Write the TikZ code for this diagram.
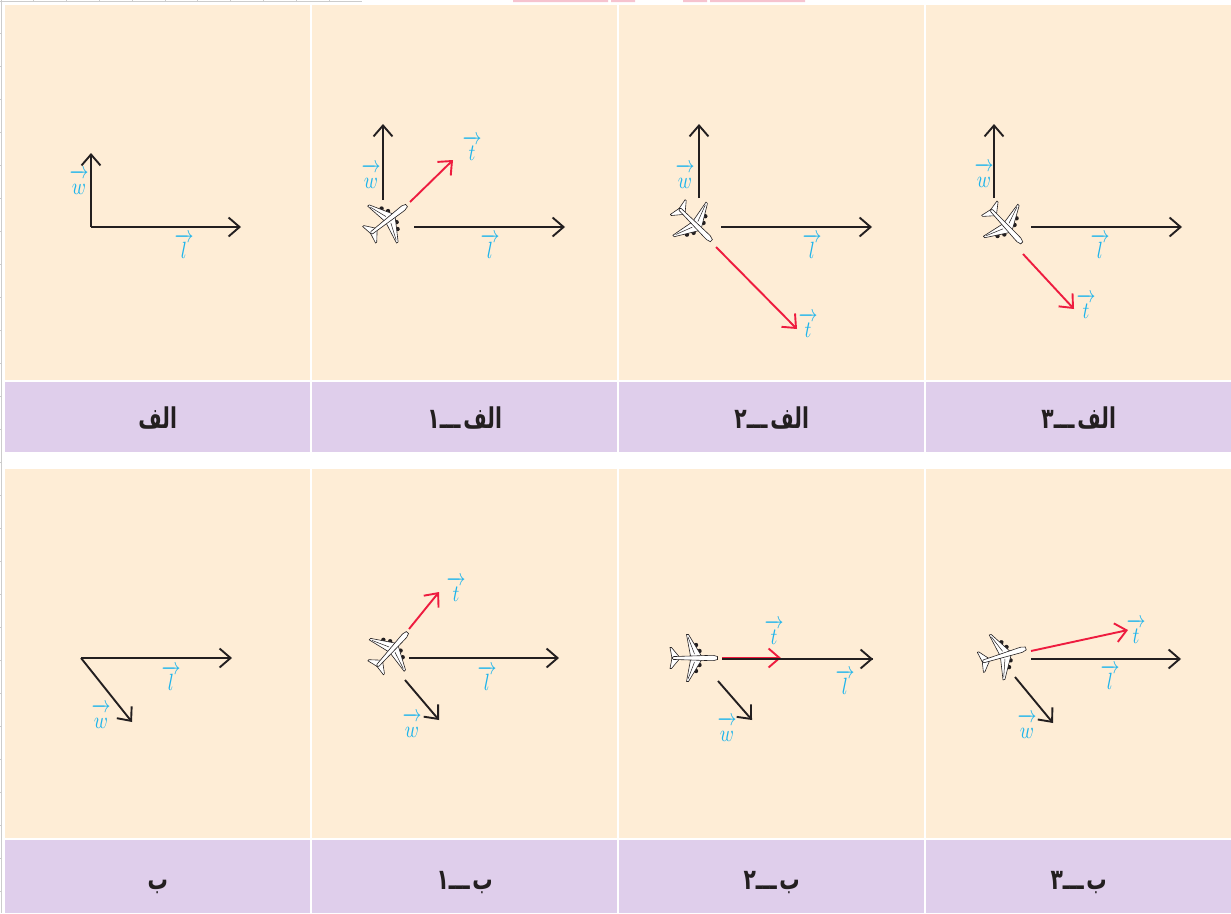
\documentclass[tikz,border=0pt]{standalone}
\usepackage{fontspec}
\usetikzlibrary{arrows.meta}
\TeXXeTstate=1
\newfontfamily\arabicfont[Script=Arabic]{DejaVu Sans}
\definecolor{panelbg}{HTML}{FEEDD6}
\definecolor{capbg}{HTML}{DFCEEB}
\definecolor{inkred}{HTML}{EE1C3F}
\definecolor{inkcyan}{HTML}{1CB4EC}
\definecolor{ink}{HTML}{231F20}
\definecolor{rulegray}{HTML}{CCCCCC}
\definecolor{markpink}{HTML}{F6C3CF}
\newcommand{\vlab}[1]{$\overrightarrow{\rule{0pt}{8pt}\hbox to 6.5pt{\hss$#1$\hss}}$}
\newcommand{\capt}[1]{\scalebox{0.92}[1.3]{\beginR #1\endR}}
\tikzset{
  panel/.style={fill=panelbg,anchor=north west,inner sep=0pt,minimum width=305pt},
  capbox/.style={fill=capbg,anchor=north west,inner sep=0pt,minimum width=305pt,text=ink,
    font=\arabicfont\bfseries\fontsize{22}{26}\selectfont},
  captop/.style={capbox,minimum height=70pt,text height=22pt,text depth=0pt},
  capbot/.style={capbox,minimum height=73pt,text height=25pt,text depth=0pt},
  vecb/.style={draw=ink,line width=1.9pt,-{Straight Barb[length=11pt,width=19pt,line width=1.9pt]}},
  vecr/.style={draw=inkred,line width=1.9pt,-{Straight Barb[length=11pt,width=19pt,line width=1.9pt]}},
  lab/.style={text=inkcyan,inner sep=0pt,xscale=1.9,yscale=2.35},
  rulemark/.style={draw=rulegray,line width=0.9pt},
  plane/.pic={
    \fill[ink] (5.5,7) circle (2.2) (2,13) circle (2.2) (5.5,-7) circle (2.2) (2,-13) circle (2.2);
    \draw[ink,fill=white,line width=0.6pt,line join=round]
      (7.5,2) -- (-5.5,23.5) -- (-7.5,23.5) -- (-3.5,2) -- (-3.5,-2) -- (-7.5,-23.5) -- (-5.5,-23.5) -- (7.5,-2) -- cycle;
    \draw[ink,line width=0.5pt] (0.5,4) -- (-6,21) (0.5,-4) -- (-6,-21);
    \draw[ink,fill=white,line width=0.6pt,line join=round]
      (-15,1.5) -- (-22.5,10.5) -- (-24,10.5) -- (-22,0) -- (-24,-10.5) -- (-22.5,-10.5) -- (-15,-1.5) -- cycle;
    \draw[ink,fill=white,line width=0.6pt,rounded corners=1.5pt]
      (-22,-1.4) -- (18,-2.7) .. controls (21,-2.6) and (23.5,-1) .. (23.5,0) .. controls (23.5,1) and (21,2.6) .. (18,2.7) -- (-22,1.4) -- cycle;
  }
}
\begin{document}
\begin{tikzpicture}[x=1pt,y=-1pt]
\useasboundingbox (0,0) rectangle (1231,913);
% ruler residue at the page edge
\coordinate (rt0) at (0,1); \coordinate (rt1) at (361,1);
\coordinate (rl0) at (1,0); \coordinate (rl1) at (1,913);
\draw[rulemark] (rt0) -- (rt1) -- ++(0,1);
\draw[rulemark] (rl0) -- (rl1);
\foreach \i in {1,...,10} \draw[rulemark] (32.8*\i+1,0) -- ++(0,2);
\foreach \i in {1,...,27} \draw[rulemark] (0,33*\i) -- ++(2,0);
\fill[markpink] (513,0) rectangle (608,2) (611,0) rectangle (635,2) (683,0) rectangle (707,2) (710,0) rectangle (805,2);
% panels
\foreach \n/\x in {a/5,b/312,c/619,d/926}{
  \node[panel,minimum height=375pt] (top\n) at (\x,5) {};
  \node[panel,minimum height=369pt] (bot\n) at (\x,469) {};
}
\node[captop] (capA) at (5,382) {\capt{الف}};
\node[captop] (capB) at (312,382) {\capt{الف\hspace{3pt}ـــ۱}};
\node[captop] (capC) at (619,382) {\capt{الف\hspace{3pt}ـــ۲}};
\node[captop] (capD) at (926,382) {\capt{الف\hspace{3pt}ـــ۳}};
\node[capbot] (capE) at (5,840) {\capt{ب}};
\node[capbot] (capF) at (312,840) {\capt{ب\hspace{3pt}ـــ۱}};
\node[capbot] (capG) at (619,840) {\capt{ب\hspace{3pt}ـــ۲}};
\node[capbot] (capH) at (926,840) {\capt{ب\hspace{3pt}ـــ۳}};
% planes
\pic[rotate=38] at (388,220) {plane};
\pic[rotate=-45] at (694.7,224) {plane};
\pic[rotate=-47] at (1005.7,225.7) {plane};
\pic[rotate=48] at (391.7,650) {plane};
\pic at (694,658) {plane};
\pic[rotate=17] at (1003.3,655.3) {plane};
% panel A
\coordinate (a0) at (91,227); \coordinate (aw) at (91,153); \coordinate (al) at (241,227);
\draw[vecb] (a0) -- (aw); \draw[vecb] (a0) -- (al);
\node[lab] (awl) at (79,182) {\vlab{w}};
\node[lab] (all) at (184,246) {\vlab{l}};
% panel A1
\coordinate (bw0) at (383,200); \coordinate (bw) at (383,124);
\coordinate (bl0) at (414,227); \coordinate (bl) at (565,227);
\coordinate (bt0) at (410,202); \coordinate (bt) at (453,160);
\draw[vecb] (bw0) -- (bw); \draw[vecb] (bl0) -- (bl); \draw[vecr] (bt0) -- (bt);
\node[lab] (bwl) at (371,176) {\vlab{w}};
\node[lab] (bll) at (490,246) {\vlab{l}};
\node[lab] (btl) at (472,148) {\vlab{t}};
% panel A2
\coordinate (cw0) at (699,198); \coordinate (cw) at (699,124);
\coordinate (cl0) at (721,227); \coordinate (cl) at (872,227);
\coordinate (ct0) at (716,247); \coordinate (ct) at (797,329);
\draw[vecb] (cw0) -- (cw); \draw[vecb] (cl0) -- (cl); \draw[vecr] (ct0) -- (ct);
\node[lab] (cwl) at (685,176) {\vlab{w}};
\node[lab] (cll) at (812,246) {\vlab{l}};
\node[lab] (ctl) at (808,325) {\vlab{t}};
% panel A3
\coordinate (dw0) at (994,198); \coordinate (dw) at (994,124);
\coordinate (dl0) at (1031,227); \coordinate (dl) at (1182,227);
\coordinate (dt0) at (1023,254); \coordinate (dt) at (1074,309);
\draw[vecb] (dw0) -- (dw); \draw[vecb] (dl0) -- (dl); \draw[vecr] (dt0) -- (dt);
\node[lab] (dwl) at (984,175) {\vlab{w}};
\node[lab] (dll) at (1100,246) {\vlab{l}};
\node[lab] (dtl) at (1086,306) {\vlab{t}};
% panel B
\coordinate (e0) at (81,658); \coordinate (el) at (232,658); \coordinate (ew) at (132,722);
\draw[vecb] (e0) -- (el); \draw[vecb] (e0) -- (ew);
\node[lab] (ell) at (171,678) {\vlab{l}};
\node[lab] (ewl) at (101,716) {\vlab{w}};
% panel B1
\coordinate (ft0) at (409,629); \coordinate (ft) at (439,592);
\coordinate (fl0) at (409,658); \coordinate (fl) at (559,658);
\coordinate (fw0) at (405,680); \coordinate (fw) at (439,720);
\draw[vecb] (fl0) -- (fl); \draw[vecb] (fw0) -- (fw); \draw[vecr] (ft0) -- (ft);
\node[lab] (ftl) at (456,589) {\vlab{t}};
\node[lab] (fll) at (487,678) {\vlab{l}};
\node[lab] (fwl) at (412,725) {\vlab{w}};
% panel B2
\coordinate (gl0) at (722,659); \coordinate (gl) at (873,659);
\coordinate (gt0) at (722,658); \coordinate (gt) at (781,658);
\coordinate (gw0) at (718,681); \coordinate (gw) at (752,720);
\draw[vecb] (gl0) -- (gl); \draw[vecr] (gt0) -- (gt); \draw[vecb] (gw0) -- (gw);
\draw[draw=ink,line width=1.9pt] (gl0) -- (gl);
\node[lab] (gtl) at (774,632) {\vlab{t}};
\node[lab] (gll) at (845,682) {\vlab{l}};
\node[lab] (gwl) at (727,729) {\vlab{w}};
% panel B3
\coordinate (ht0) at (1031,651); \coordinate (ht) at (1128,630);
\coordinate (hl0) at (1031,659); \coordinate (hl) at (1181,659);
\coordinate (hw0) at (1015,677); \coordinate (hw) at (1053,723);
\draw[vecb] (hl0) -- (hl); \draw[vecb] (hw0) -- (hw); \draw[vecr] (ht0) -- (ht);
\node[lab] (htl) at (1136,631) {\vlab{t}};
\node[lab] (hll) at (1110,677) {\vlab{l}};
\node[lab] (hwl) at (1027,726) {\vlab{w}};
\end{tikzpicture}
\end{document}
